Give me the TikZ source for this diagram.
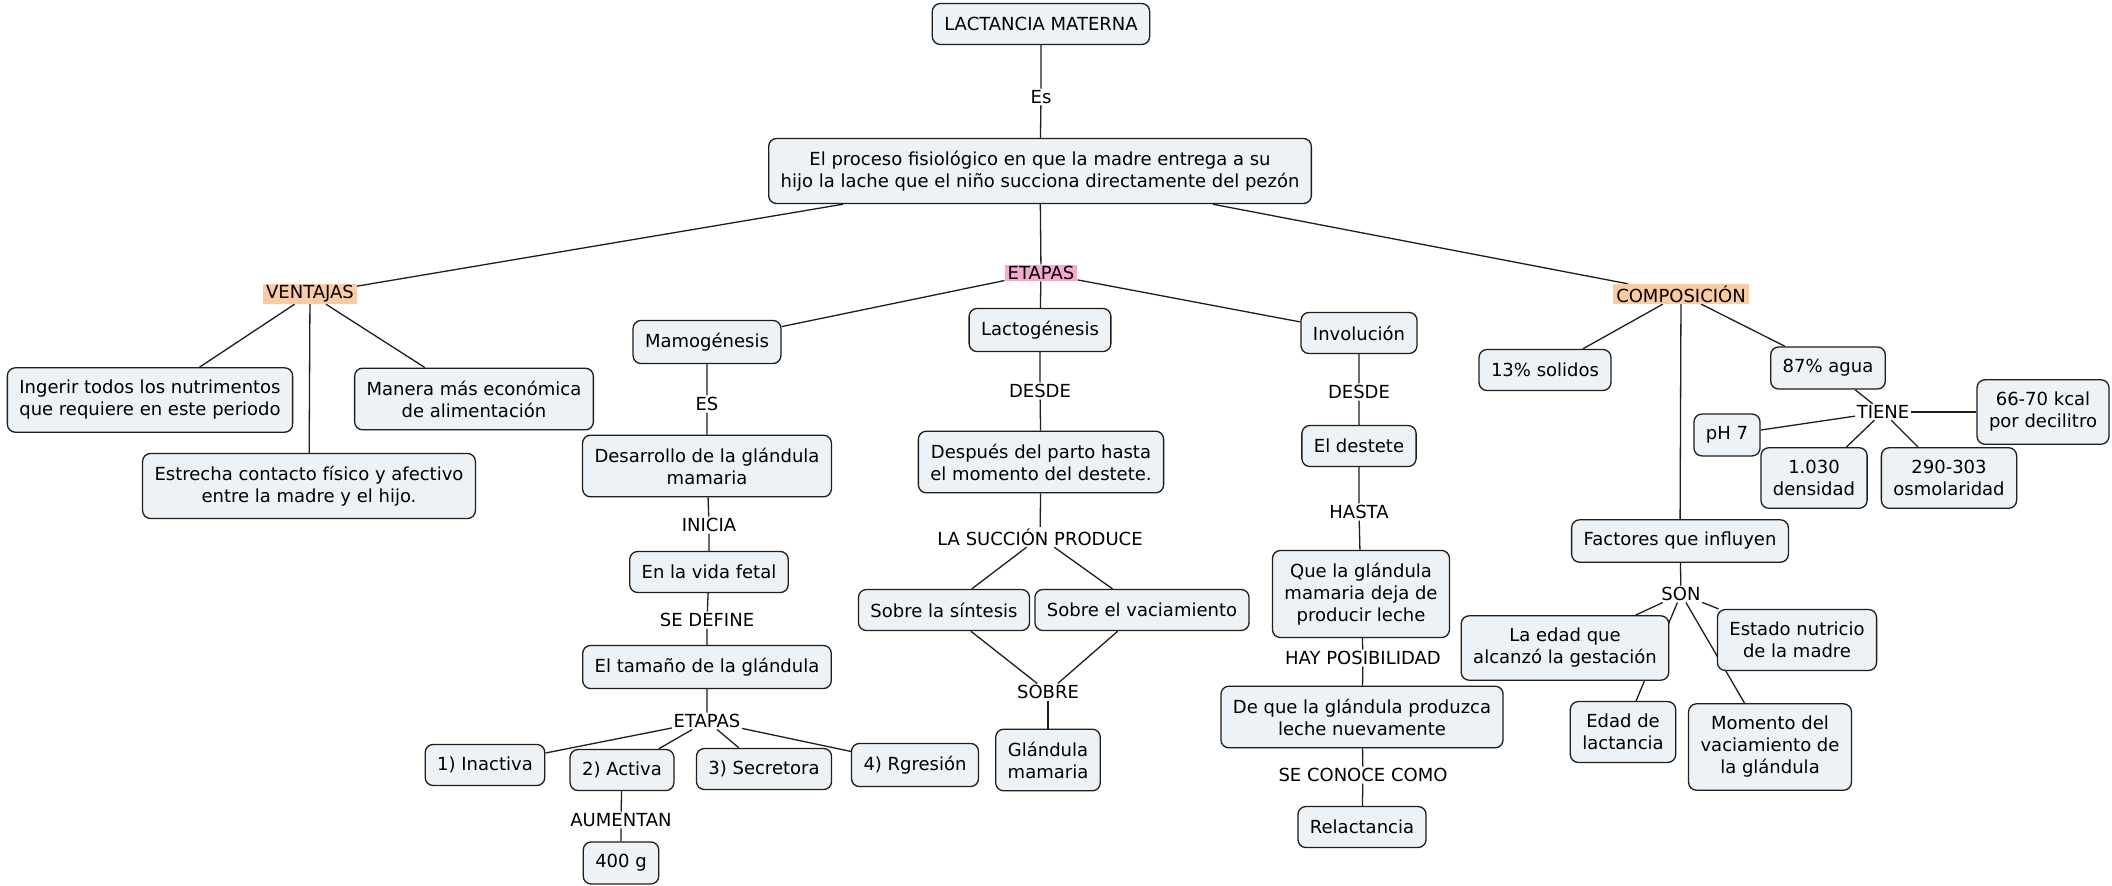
\documentclass[tikz,border=0pt]{standalone}
\usepackage{fontspec}
\setmainfont{DejaVu Sans}
\usepackage{tikz}
\usetikzlibrary{backgrounds}
\definecolor{cbox}{RGB}{236,242,245}
\definecolor{cline}{RGB}{30,30,30}
\definecolor{corange}{RGB}{251,204,162}
\definecolor{cpink}{RGB}{246,168,205}
\newcommand\mapfont{\fontsize{18}{22}\selectfont}
\tikzset{%
  concept/.style={draw=cline,fill=cbox,rounded corners=8pt,line width=1.3pt,
    align=center,inner xsep=12pt,inner ysep=12.5pt,minimum height=41pt,font=\mapfont},
  link/.style={inner sep=1.5pt,align=center,font=\mapfont},
  hilite/.style={link,fill=#1,inner xsep=3pt},
  hilite/.default=corange,
  conn/.style={draw=cline,line width=1.3pt}
}

\begin{document}
\begin{tikzpicture}[x=1pt,y=-1pt]
  \useasboundingbox (0,0) rectangle (2112,886);
  % Top
  \node[concept] (lactancia) at (1041,24) {LACTANCIA MATERNA};
  \node[link] (es) at (1041,97) {Es};
  \node[concept] (proceso) at (1040,171) {El proceso fisiológico en que la madre entrega a su\\hijo la lache que el niño succiona directamente del pezón};
  \node[hilite] (ventajas) at (310,294) {VENTAJAS};
  \node[hilite=cpink] (etapas) at (1041,273) {ETAPAS};
  \node[hilite] (composicion) at (1681,294) {COMPOSICIÓN};
  % Ventajas
  \node[concept] (ingerir) at (150,400) {Ingerir todos los nutrimentos\\que requiere en este periodo};
  \node[concept] (manera) at (474,399) {Manera más económica\\de alimentación};
  \node[concept] (estrecha) at (309,486) {Estrecha contacto físico y afectivo\\entre la madre y el hijo.};
  % Mamogenesis
  \node[concept] (mamo) at (707,342) {Mamogénesis};
  \node[link] (mamoes) at (707,404) {ES};
  \node[concept] (desarrollo) at (707,466) {Desarrollo de la glándula\\mamaria};
  \node[link] (inicia) at (709,525) {INICIA};
  \node[concept] (fetal) at (709,572) {En la vida fetal};
  \node[link] (define) at (707,620) {SE DEFINE};
  \node[concept] (tamano) at (707,667) {El tamaño de la glándula};
  \node[link] (fases) at (707,721) {ETAPAS};
  \node[concept] (inactiva) at (485,765) {1) Inactiva};
  \node[concept] (activa) at (622,770) {2) Activa};
  \node[concept] (secretora) at (764,769) {3) Secretora};
  \node[concept] (regresion) at (915,765) {4) Rgresión};
  \node[link] (aumentan) at (621,820) {AUMENTAN};
  \node[concept] (gramos) at (621,863) {400 g};
  % Lactogenesis
  \node[concept] (lacto) at (1040,330) {Lactogénesis};
  \node[link] (lactodesde) at (1040,391) {DESDE};
  \node[concept] (parto) at (1041,462) {Después del parto hasta\\el momento del destete.};
  \node[link] (succion) at (1040,537) {LA SUCCIÓN PRODUCE};
  \node[concept] (sintesis) at (944,610) {Sobre la síntesis};
  \node[concept] (vaciamiento) at (1142,610) {Sobre el vaciamiento};
  \node[link] (sobre) at (1048,692) {SOBRE};
  \node[concept] (glandula) at (1048,760) {Glándula\\mamaria};
  % Involucion
  \node[concept] (involucion) at (1359,333) {Involución};
  \node[link] (invdesde) at (1359,392) {DESDE};
  \node[concept] (destete) at (1359,446) {El destete};
  \node[link] (hasta) at (1359,512) {HASTA};
  \node[concept] (deja) at (1361,594) {Que la glándula\\mamaria deja de\\producir leche};
  \node[link] (posible) at (1363,658) {HAY POSIBILIDAD};
  \node[concept] (produzca) at (1362,717) {De que la glándula produzca\\leche nuevamente};
  \node[link] (conoce) at (1363,775) {SE CONOCE COMO};
  \node[concept] (relactancia) at (1362,827) {Relactancia};
  % Composicion
  \node[concept] (solidos) at (1545,370) {13\% solidos};
  \node[concept] (agua) at (1828,368) {87\% agua};
  \node[link] (tiene) at (1883,412) {TIENE};
  \node[concept] (kcal) at (2043,412) {66-70 kcal\\por decilitro};
  \node[concept] (ph) at (1727,435) {pH 7};
  \node[concept] (densidad) at (1814,478) {1.030\\densidad};
  \node[concept] (osmo) at (1949,478) {290-303\\osmolaridad};
  \node[concept] (factores) at (1680,541) {Factores que influyen};
  \node[link] (son) at (1681,594) {SON};
  \node[concept] (gestacion) at (1565,648) {La edad que\\alcanzó la gestación};
  \node[concept] (edadlact) at (1623,732) {Edad de\\lactancia};
  \node[concept] (nutricio) at (1797,640) {Estado nutricio\\de la madre};
  \node[concept] (momento) at (1770,747) {Momento del\\vaciamiento de\\la glándula};
  % Connectors, behind the boxes
  \begin{pgfonlayer}{background}
    \fill[white] (0,0) rectangle (2112,886);
    \draw[conn] (lactancia) -- (es) -- (proceso);
    \draw[conn] (proceso) -- (ventajas);
    \draw[conn] (proceso) -- (etapas);
    \draw[conn] (proceso) -- (composicion);
    \draw[conn] (ventajas) -- (ingerir);
    \draw[conn] (ventajas) -- (manera);
    \draw[conn] (ventajas) -- (estrecha);
    \draw[conn] (etapas) -- (mamo);
    \draw[conn] (etapas) -- (lacto);
    \draw[conn] (etapas) -- (involucion);
    \draw[conn] (mamo) -- (mamoes) -- (desarrollo) -- (inicia) -- (fetal) -- (define) -- (tamano) -- (fases);
    \draw[conn] (fases) -- (inactiva);
    \draw[conn] (fases) -- (activa);
    \draw[conn] (fases) -- (secretora);
    \draw[conn] (fases) -- (regresion);
    \draw[conn] (activa) -- (aumentan) -- (gramos);
    \draw[conn] (lacto) -- (lactodesde) -- (parto) -- (succion);
    \draw[conn] (succion) -- (sintesis) -- (sobre);
    \draw[conn] (succion) -- (vaciamiento) -- (sobre);
    \draw[conn] (sobre) -- (glandula);
    \draw[conn] (involucion) -- (invdesde) -- (destete) -- (hasta) -- (deja) -- (posible) -- (produzca) -- (conoce) -- (relactancia);
    \draw[conn] (composicion) -- (solidos);
    \draw[conn] (composicion) -- (agua);
    \draw[conn] (composicion) -- (factores);
    \draw[conn] (agua) -- (tiene);
    \draw[conn] (tiene) -- (kcal);
    \draw[conn] (tiene) -- (ph);
    \draw[conn] (tiene) -- (densidad);
    \draw[conn] (tiene) -- (osmo);
    \draw[conn] (factores) -- (son);
    \draw[conn] (son) -- (gestacion);
    \draw[conn] (son) -- (edadlact);
    \draw[conn] (son) -- (nutricio);
    \draw[conn] (son) -- (momento);
  \end{pgfonlayer}
\end{tikzpicture}
\end{document}
